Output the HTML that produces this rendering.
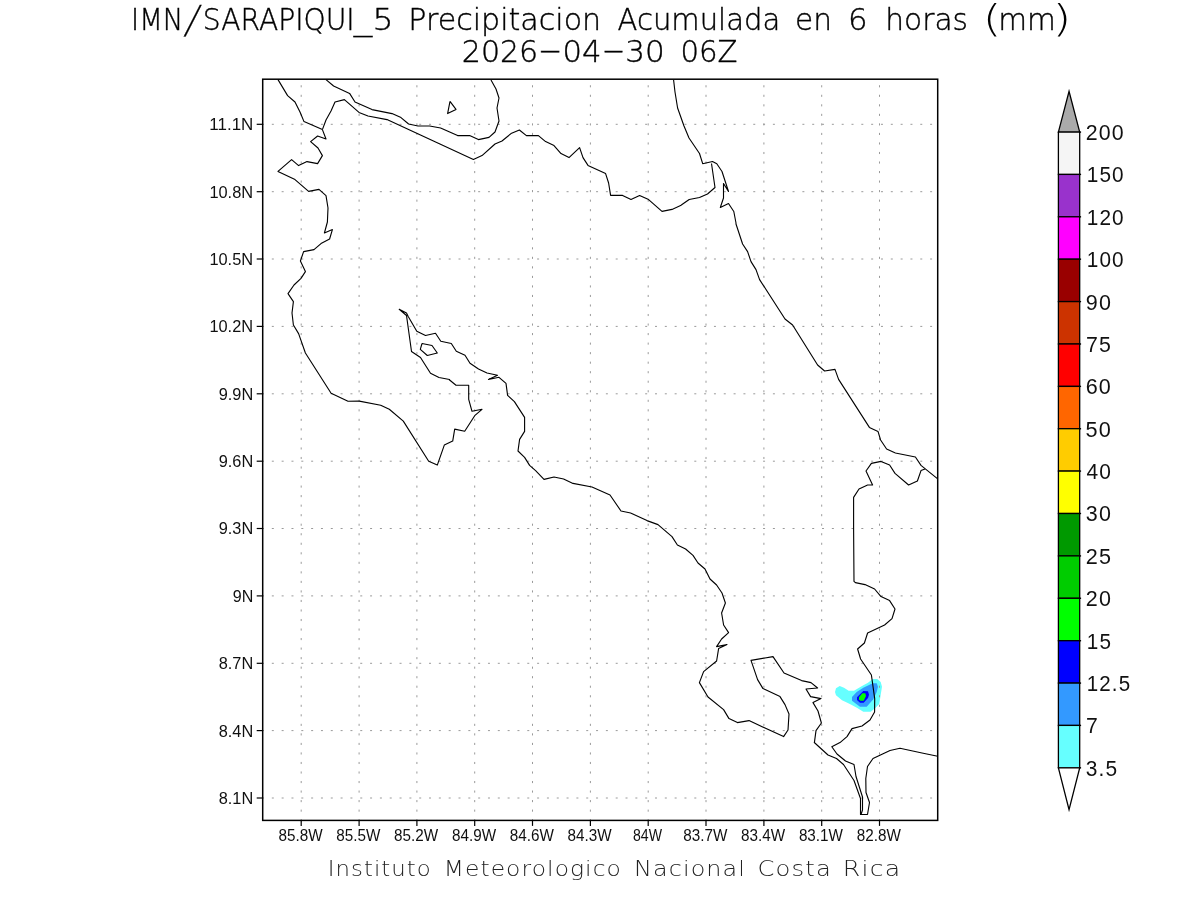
<!DOCTYPE html>
<html lang="es"><head><meta charset="utf-8"><title>IMN/SARAPIQUI_5 Precipitacion Acumulada en 6 horas (mm) 2026-04-30 06Z</title>
<style>
html,body{margin:0;padding:0;background:#fff;}
body{width:1200px;height:900px;overflow:hidden;}
svg{display:block;}
.thin{font-family:"DejaVu Sans Light","DejaVu Sans","Liberation Sans",sans-serif;font-weight:200;}
.ax{font-family:"Liberation Sans","DejaVu Sans",sans-serif;}
.cb{font-family:"Liberation Sans","DejaVu Sans",sans-serif;}
</style></head><body>
<svg width="1200" height="900" viewBox="0 0 1200 900">
<rect width="1200" height="900" fill="#fff"/>
<g stroke="none">
<polygon fill="#66ffff" points="835,692 836,688.3 839.7,686 844,687.7 848.7,690.7 854,690.7 862,686 868,682.7 872.7,679 877.3,679 880.7,682 882,686.7 880.7,694.7 879.3,704 875.3,708 870.7,711.7 863.3,711.7 857.3,708 851.3,704.7 847.3,702.7 842,700.3 836,695.3"/>
<polygon fill="#3399ff" points="852,697 856.7,692 863.3,687.7 872.7,683.3 876.7,683.3 878,686.7 876.7,692 873.3,699.3 866.7,706.7 860,706.7 852,700.7"/>
<polygon fill="#0000ff" points="857,697.3 863.3,691 868,691.3 869,694.7 868,698 863.7,702.7 860,702.7 857,700"/>
<polygon fill="#00ff00" points="859,697.3 862.3,693.3 865.3,693.3 866,696 863.7,700.7 860.3,700.7 859,699.3"/>
</g>
<g stroke="#9a9a9a" stroke-width="1" fill="none">
<line x1="262" y1="124.3" x2="934.7" y2="124.3" stroke-dasharray="2 7.825"/>
<line x1="262" y1="191.7" x2="934.7" y2="191.7" stroke-dasharray="2 7.825"/>
<line x1="262" y1="259.0" x2="934.7" y2="259.0" stroke-dasharray="2 7.825"/>
<line x1="262" y1="326.4" x2="934.7" y2="326.4" stroke-dasharray="2 7.825"/>
<line x1="262" y1="393.8" x2="934.7" y2="393.8" stroke-dasharray="2 7.825"/>
<line x1="262" y1="461.2" x2="934.7" y2="461.2" stroke-dasharray="2 7.825"/>
<line x1="262" y1="528.5" x2="934.7" y2="528.5" stroke-dasharray="2 7.825"/>
<line x1="262" y1="595.9" x2="934.7" y2="595.9" stroke-dasharray="2 7.825"/>
<line x1="262" y1="663.3" x2="934.7" y2="663.3" stroke-dasharray="2 7.825"/>
<line x1="262" y1="730.6" x2="934.7" y2="730.6" stroke-dasharray="2 7.825"/>
<line x1="262" y1="798.0" x2="934.7" y2="798.0" stroke-dasharray="2 7.825"/>
<line x1="301.2" y1="821.22" x2="301.2" y2="82.2" stroke-dasharray="2.1 7.431"/>
<line x1="359.1" y1="821.22" x2="359.1" y2="82.2" stroke-dasharray="2.1 7.431"/>
<line x1="416.9" y1="821.22" x2="416.9" y2="82.2" stroke-dasharray="2.1 7.431"/>
<line x1="474.7" y1="821.22" x2="474.7" y2="82.2" stroke-dasharray="2.1 7.431"/>
<line x1="532.5" y1="821.22" x2="532.5" y2="82.2" stroke-dasharray="2.1 7.431"/>
<line x1="590.4" y1="821.22" x2="590.4" y2="82.2" stroke-dasharray="2.1 7.431"/>
<line x1="648.2" y1="821.22" x2="648.2" y2="82.2" stroke-dasharray="2.1 7.431"/>
<line x1="706.0" y1="821.22" x2="706.0" y2="82.2" stroke-dasharray="2.1 7.431"/>
<line x1="763.9" y1="821.22" x2="763.9" y2="82.2" stroke-dasharray="2.1 7.431"/>
<line x1="821.7" y1="821.22" x2="821.7" y2="82.2" stroke-dasharray="2.1 7.431"/>
<line x1="879.5" y1="821.22" x2="879.5" y2="82.2" stroke-dasharray="2.1 7.431"/>
</g>
<g stroke="#000" stroke-width="1.12" fill="none" stroke-linejoin="round">
<polyline points="278,79.6 287.6,95.6 295,102 300,112 304,121.6 322.4,129.6"/>
<polyline points="322.4,129.6 326,139 317.6,136 310.6,141.6 318,148 322.4,155.6 317.6,163.6 307,161.6 298.6,165.6 291.6,159.6 278,171.4 295,179.6 308.6,191.4 319,189.4 326,195.6 328,208 327.4,222 324.4,233 332.4,229.6 329.6,239 321,243.6 314,249.6 303.6,251.6 300.4,261 305.4,271.6 301,278.4 294,285 288,293.6 293.4,301.6 292,313 293.4,325 298.6,333.6 305.4,353 331.1,393.3 348,401.3 359.3,401.1 380.7,405.3 389.3,409.3 403.3,421.1 428.7,461.3 437.3,465.1 444.3,445.1 452.7,441.1 454.7,429.1 464.7,431.3 474.7,415.7 482,409.3 472,411.3 468.7,399.3 468.7,385.3 456,385.3 449.3,379.7 449.5,379.5 439,377.5 430.5,373.3 420.5,357.5 411.5,351.5 406.5,315.5 399.2,309.3 399.2,309.3 406.5,313 408.2,316.5 416.8,331.3 425.5,335.5 435.5,333.3 440.8,341.3 451.3,343.5 456.3,351.3 465,355.3 470,363.3 478.5,369 487,373 497.5,375.3 488.5,379.5 499,377.3 506,383.4 507.6,395.4 514.4,401.6 524.6,417.4 524.6,431.4 519.6,439.4 518,451 524.6,457.4 529.6,465.4 535.6,470.6 544,479.4 554,477 563.6,479 573,483.4 592,487 610,495 621,511 630.6,513 647,520.6 658,524.6 672,536.6 677.4,545 685.6,549 693,555.4 698,563 705,569 710,579 716.6,585 722,593 725.4,603 721.6,613 723.6,625 728.6,632.6 721.6,639 716.6,646.6 727,644.6 718.6,648.6 716.6,661 703.6,671.6 699.4,682.6 708,697 723.6,709.6 729,718.6 737.4,722.6 749,720.6 783.6,736.6 788,730 789,714 785,704.6 780,696.6 763,688.6 757.6,679.6 751,660.4 773,656.6 784,673 801.6,680.6 811,682.6 817.6,688 806,689 810.6,696.6 821,698.6 813,702.6 818,711 821.4,723 816,730.6 814.4,742.6 814.3,742.5 828,755 836.5,758.5 843.5,764.5 854,780.5 860.5,798.5 860.5,814.5 867.5,814.5 869.5,802.5 866,792.5 865.8,778.5 867.5,766.5 873,758.5 890,750.5 900,748.3 922,753 937.7,756.2"/>
<polyline points="322.4,129.6 326,120 331,111 335,102 344.4,99.6 359,112.4 368,116 387,119.6 473.4,159.4 482,155.6 495,144 502,141 511,133.6 519.4,130 526.4,135.6 538.4,135.6 545.6,141.6 554,145.6 561,153.6 569,157.6 579.6,147.6 583,157.6 588,165.4 605.6,173.6 608.6,183 610.6,195.4 622.6,195.4 631,199.4 639.6,195.6 648.6,199.6 662,211.4 672,209.4 680.6,205.6 682,204.5 689.2,199.5 699.5,197.5 707.5,194 715,187.5 711.5,163.5"/>
<polyline points="326,79.6 333.6,86 349.6,93.4 355,102 372,109.6 392,113.6 401,117.6 408.6,124 418,126 429.6,126 440.6,128 457.6,135.6 469.6,135.6 478.4,139.6 489,137.4 495,132 499,121 497,108 499,98 496,89 491,80"/>
<polyline points="450,101.4 456,109.4 447.6,113.6 450,101.4"/>
<polyline points="422,343.5 432,345.5 437.3,353 427.3,355.5 420.3,349.3 422,343.5"/>
<polyline points="673.6,80 675,92 677.6,108 684,126 689,138 699.5,153.5 702.7,163.7 712.5,161.5 716.8,163.8 722,171.5 728.5,191.5 723.5,183.5 723.5,198 720.3,207.5 728.5,203.5 733.8,211.5 736,223 736,224 742.6,244 747.6,251.6 751,261.6 756,269.6 759.6,279.6 785,319 792.6,325 817.6,365 824.6,371 835,369.4 838.6,379.4 869.4,427.4 878,431.4 880.6,440 886.6,449 895.4,453 915.4,457 921,465.4 925,468.6 937.4,478.6"/>
<polyline points="925,469 921,470.6 917.4,481 908.6,485 895,473.4 889.6,465 881,461.4 871.4,463.4 866,471 872.6,485 867.6,485 859,489 853.6,497.4 853.6,528 854,581.4 855.4,582.6 865,584.6 874.6,589 881,596.6 889.6,600.6 895,609 892,618.6 884.6,625 867.6,633 864.4,643 857.6,649 860.6,659 871.4,675 874.7,698.7 874.6,712 870,720 862,726 852,728.6 847,736.6 840,742.6 831.8,746.7 837,754 845.5,761 854,764.5 856,776.5 862.5,797 862.5,810 861,814.5"/>
</g>
<rect x="262.7" y="79.2" width="675" height="741.2" fill="none" stroke="#000" stroke-width="1.5"/>
<g stroke="#000" stroke-width="1.2">
<line x1="256.7" y1="124.3" x2="262.7" y2="124.3"/>
<line x1="256.7" y1="191.7" x2="262.7" y2="191.7"/>
<line x1="256.7" y1="259.0" x2="262.7" y2="259.0"/>
<line x1="256.7" y1="326.4" x2="262.7" y2="326.4"/>
<line x1="256.7" y1="393.8" x2="262.7" y2="393.8"/>
<line x1="256.7" y1="461.2" x2="262.7" y2="461.2"/>
<line x1="256.7" y1="528.5" x2="262.7" y2="528.5"/>
<line x1="256.7" y1="595.9" x2="262.7" y2="595.9"/>
<line x1="256.7" y1="663.3" x2="262.7" y2="663.3"/>
<line x1="256.7" y1="730.6" x2="262.7" y2="730.6"/>
<line x1="256.7" y1="798.0" x2="262.7" y2="798.0"/>
<line x1="301.2" y1="820.4" x2="301.2" y2="825.9"/>
<line x1="359.1" y1="820.4" x2="359.1" y2="825.9"/>
<line x1="416.9" y1="820.4" x2="416.9" y2="825.9"/>
<line x1="474.7" y1="820.4" x2="474.7" y2="825.9"/>
<line x1="532.5" y1="820.4" x2="532.5" y2="825.9"/>
<line x1="590.4" y1="820.4" x2="590.4" y2="825.9"/>
<line x1="648.2" y1="820.4" x2="648.2" y2="825.9"/>
<line x1="706.0" y1="820.4" x2="706.0" y2="825.9"/>
<line x1="763.9" y1="820.4" x2="763.9" y2="825.9"/>
<line x1="821.7" y1="820.4" x2="821.7" y2="825.9"/>
<line x1="879.5" y1="820.4" x2="879.5" y2="825.9"/>
</g>
<g stroke="#000" stroke-width="1.3" stroke-linejoin="miter" stroke-miterlimit="10">
<polygon fill="#aaaaaa" points="1058.4,132.05 1069.05,91.3 1079.7,132.05"/>
<rect x="1058.4" y="132.1" width="21.3" height="42.385" fill="#f5f5f5"/>
<rect x="1058.4" y="174.4" width="21.3" height="42.385" fill="#9932cc"/>
<rect x="1058.4" y="216.8" width="21.3" height="42.385" fill="#ff00ff"/>
<rect x="1058.4" y="259.2" width="21.3" height="42.385" fill="#990000"/>
<rect x="1058.4" y="301.6" width="21.3" height="42.385" fill="#cc3300"/>
<rect x="1058.4" y="344.0" width="21.3" height="42.385" fill="#ff0000"/>
<rect x="1058.4" y="386.4" width="21.3" height="42.385" fill="#ff6600"/>
<rect x="1058.4" y="428.7" width="21.3" height="42.385" fill="#ffcc00"/>
<rect x="1058.4" y="471.1" width="21.3" height="42.385" fill="#ffff00"/>
<rect x="1058.4" y="513.5" width="21.3" height="42.385" fill="#009900"/>
<rect x="1058.4" y="555.9" width="21.3" height="42.385" fill="#00cc00"/>
<rect x="1058.4" y="598.3" width="21.3" height="42.385" fill="#00ff00"/>
<rect x="1058.4" y="640.7" width="21.3" height="42.385" fill="#0000ff"/>
<rect x="1058.4" y="683.1" width="21.3" height="42.385" fill="#3399ff"/>
<rect x="1058.4" y="725.4" width="21.3" height="42.385" fill="#66ffff"/>
<polygon fill="#ffffff" points="1058.4,767.8 1069.05,809.6 1079.7,767.8"/>
<line x1="1079.7" y1="132.1" x2="1081.1000000000001" y2="132.1"/>
<line x1="1079.7" y1="174.4" x2="1081.1000000000001" y2="174.4"/>
<line x1="1079.7" y1="216.8" x2="1081.1000000000001" y2="216.8"/>
<line x1="1079.7" y1="259.2" x2="1081.1000000000001" y2="259.2"/>
<line x1="1079.7" y1="301.6" x2="1081.1000000000001" y2="301.6"/>
<line x1="1079.7" y1="344.0" x2="1081.1000000000001" y2="344.0"/>
<line x1="1079.7" y1="386.4" x2="1081.1000000000001" y2="386.4"/>
<line x1="1079.7" y1="428.7" x2="1081.1000000000001" y2="428.7"/>
<line x1="1079.7" y1="471.1" x2="1081.1000000000001" y2="471.1"/>
<line x1="1079.7" y1="513.5" x2="1081.1000000000001" y2="513.5"/>
<line x1="1079.7" y1="555.9" x2="1081.1000000000001" y2="555.9"/>
<line x1="1079.7" y1="598.3" x2="1081.1000000000001" y2="598.3"/>
<line x1="1079.7" y1="640.7" x2="1081.1000000000001" y2="640.7"/>
<line x1="1079.7" y1="683.1" x2="1081.1000000000001" y2="683.1"/>
<line x1="1079.7" y1="725.4" x2="1081.1000000000001" y2="725.4"/>
<line x1="1079.7" y1="767.8" x2="1081.1000000000001" y2="767.8"/>
</g>
<g style="will-change:transform">
<text class="thin" font-size="30.6" fill="#000" stroke="#000" stroke-width="0.4" y="30.0"><tspan x="131.08" textLength="52.08" lengthAdjust="spacingAndGlyphs">IMN</tspan><tspan x="183.88" dy="3.4" font-size="38.5" font-style="italic" stroke-width="0.25" textLength="11.82" lengthAdjust="spacingAndGlyphs">/</tspan><tspan x="202.75" dy="-3.4" textLength="151.93" lengthAdjust="spacingAndGlyphs">SARAPIQUI</tspan><tspan x="353.85" textLength="18.46" lengthAdjust="spacingAndGlyphs">_</tspan><tspan x="372.57" textLength="20.96" lengthAdjust="spacingAndGlyphs">5</tspan></text>
<text class="thin" font-size="30.6" fill="#000" stroke="#000" stroke-width="0.4" x="408.33" y="30.0" textLength="192.86" lengthAdjust="spacingAndGlyphs">Precipitacion</text>
<text class="thin" font-size="30.6" fill="#000" stroke="#000" stroke-width="0.4" x="617.60" y="30.0" textLength="162.64" lengthAdjust="spacingAndGlyphs">Acumulada</text>
<text class="thin" font-size="30.6" fill="#000" stroke="#000" stroke-width="0.4" x="795.11" y="30.0" textLength="36.92" lengthAdjust="spacingAndGlyphs">en</text>
<text class="thin" font-size="30.6" fill="#000" stroke="#000" stroke-width="0.4" x="848.11" y="30.0" textLength="19.57" lengthAdjust="spacingAndGlyphs">6</text>
<text class="thin" font-size="30.6" fill="#000" stroke="#000" stroke-width="0.4" x="885.37" y="30.0" textLength="82.61" lengthAdjust="spacingAndGlyphs">horas</text>
<text class="thin" font-size="30.6" fill="#000" stroke="#000" stroke-width="0.4" y="30.0"><tspan x="982.47" dy="2.4" font-size="37.4" stroke="none" textLength="19.15" lengthAdjust="spacingAndGlyphs">(</tspan><tspan x="998.22" dy="-2.4" textLength="57.59" lengthAdjust="spacingAndGlyphs">mm</tspan><tspan x="1052.18" dy="2.4" font-size="37.4" stroke="none" textLength="19.25" lengthAdjust="spacingAndGlyphs">)</tspan></text>
<text class="thin" font-size="30.8" fill="#000" stroke="#000" stroke-width="0.4" y="61.9"><tspan x="461.84" textLength="76.39" lengthAdjust="spacingAndGlyphs">2026</tspan><tspan x="537.91" dy="-1.5" font-size="30.8"  textLength="24.27" lengthAdjust="spacingAndGlyphs">-</tspan><tspan x="562.50" dy="1.5" textLength="39.00" lengthAdjust="spacingAndGlyphs">04</tspan><tspan x="601.76" dy="-1.5" font-size="30.8"  textLength="23.58" lengthAdjust="spacingAndGlyphs">-</tspan><tspan x="625.32" dy="1.5" textLength="39.48" lengthAdjust="spacingAndGlyphs">30</tspan></text>
<text class="thin" font-size="30.8" fill="#000" stroke="#000" stroke-width="0.4" x="680.48" y="61.9" textLength="57.08" lengthAdjust="spacingAndGlyphs">06Z</text>
<text class="ax" font-size="16.7" fill="#101010" x="209.35" y="130.2" textLength="43.98" lengthAdjust="spacingAndGlyphs">11.1N</text>
<text class="ax" font-size="16.7" fill="#101010" x="209.40" y="197.6" textLength="43.69" lengthAdjust="spacingAndGlyphs">10.8N</text>
<text class="ax" font-size="16.7" fill="#101010" x="209.40" y="264.9" textLength="43.69" lengthAdjust="spacingAndGlyphs">10.5N</text>
<text class="ax" font-size="16.7" fill="#101010" x="209.40" y="332.3" textLength="43.69" lengthAdjust="spacingAndGlyphs">10.2N</text>
<text class="ax" font-size="16.7" fill="#101010" x="218.75" y="399.7" textLength="34.49" lengthAdjust="spacingAndGlyphs">9.9N</text>
<text class="ax" font-size="16.7" fill="#101010" x="218.75" y="467.1" textLength="34.49" lengthAdjust="spacingAndGlyphs">9.6N</text>
<text class="ax" font-size="16.7" fill="#101010" x="218.75" y="534.4" textLength="34.49" lengthAdjust="spacingAndGlyphs">9.3N</text>
<text class="ax" font-size="16.7" fill="#101010" x="232.76" y="601.8" textLength="20.54" lengthAdjust="spacingAndGlyphs">9N</text>
<text class="ax" font-size="16.7" fill="#101010" x="218.77" y="669.2" textLength="34.46" lengthAdjust="spacingAndGlyphs">8.7N</text>
<text class="ax" font-size="16.7" fill="#101010" x="218.77" y="736.5" textLength="34.46" lengthAdjust="spacingAndGlyphs">8.4N</text>
<text class="ax" font-size="16.7" fill="#101010" x="218.77" y="803.9" textLength="34.46" lengthAdjust="spacingAndGlyphs">8.1N</text>
<text class="ax" font-size="16.7" fill="#101010" x="278.47" y="840.7" textLength="44.11" lengthAdjust="spacingAndGlyphs">85.8W</text>
<text class="ax" font-size="16.7" fill="#101010" x="336.29" y="840.7" textLength="44.11" lengthAdjust="spacingAndGlyphs">85.5W</text>
<text class="ax" font-size="16.7" fill="#101010" x="394.12" y="840.7" textLength="44.11" lengthAdjust="spacingAndGlyphs">85.2W</text>
<text class="ax" font-size="16.7" fill="#101010" x="451.94" y="840.7" textLength="44.11" lengthAdjust="spacingAndGlyphs">84.9W</text>
<text class="ax" font-size="16.7" fill="#101010" x="509.77" y="840.7" textLength="44.11" lengthAdjust="spacingAndGlyphs">84.6W</text>
<text class="ax" font-size="16.7" fill="#101010" x="567.59" y="840.7" textLength="44.11" lengthAdjust="spacingAndGlyphs">84.3W</text>
<text class="ax" font-size="16.7" fill="#101010" x="633.02" y="840.7" textLength="29.02" lengthAdjust="spacingAndGlyphs">84W</text>
<text class="ax" font-size="16.7" fill="#101010" x="683.24" y="840.7" textLength="44.11" lengthAdjust="spacingAndGlyphs">83.7W</text>
<text class="ax" font-size="16.7" fill="#101010" x="741.07" y="840.7" textLength="44.11" lengthAdjust="spacingAndGlyphs">83.4W</text>
<text class="ax" font-size="16.7" fill="#101010" x="798.89" y="840.7" textLength="44.11" lengthAdjust="spacingAndGlyphs">83.1W</text>
<text class="ax" font-size="16.7" fill="#101010" x="856.72" y="840.7" textLength="44.11" lengthAdjust="spacingAndGlyphs">82.8W</text>
<text class="cb" font-size="21.8" fill="#111" letter-spacing="1.2" x="1085.73" y="140.0" textLength="39.14" lengthAdjust="spacingAndGlyphs">200</text>
<text class="cb" font-size="21.8" fill="#111" letter-spacing="1.2" x="1086.71" y="182.3" textLength="38.11" lengthAdjust="spacingAndGlyphs">150</text>
<text class="cb" font-size="21.8" fill="#111" letter-spacing="1.2" x="1086.71" y="224.7" textLength="38.11" lengthAdjust="spacingAndGlyphs">120</text>
<text class="cb" font-size="21.8" fill="#111" letter-spacing="1.2" x="1086.71" y="267.1" textLength="38.11" lengthAdjust="spacingAndGlyphs">100</text>
<text class="cb" font-size="21.8" fill="#111" letter-spacing="1.2" x="1085.76" y="309.5" textLength="26.29" lengthAdjust="spacingAndGlyphs">90</text>
<text class="cb" font-size="21.8" fill="#111" letter-spacing="1.2" x="1086.01" y="351.9" textLength="26.10" lengthAdjust="spacingAndGlyphs">75</text>
<text class="cb" font-size="21.8" fill="#111" letter-spacing="1.2" x="1085.69" y="394.3" textLength="26.36" lengthAdjust="spacingAndGlyphs">60</text>
<text class="cb" font-size="21.8" fill="#111" letter-spacing="1.2" x="1085.56" y="436.6" textLength="26.50" lengthAdjust="spacingAndGlyphs">50</text>
<text class="cb" font-size="21.8" fill="#111" letter-spacing="1.2" x="1086.39" y="479.0" textLength="25.60" lengthAdjust="spacingAndGlyphs">40</text>
<text class="cb" font-size="21.8" fill="#111" letter-spacing="1.2" x="1085.80" y="521.4" textLength="26.24" lengthAdjust="spacingAndGlyphs">30</text>
<text class="cb" font-size="21.8" fill="#111" letter-spacing="1.2" x="1085.72" y="563.8" textLength="26.42" lengthAdjust="spacingAndGlyphs">25</text>
<text class="cb" font-size="21.8" fill="#111" letter-spacing="1.2" x="1085.72" y="606.2" textLength="26.33" lengthAdjust="spacingAndGlyphs">20</text>
<text class="cb" font-size="21.8" fill="#111" letter-spacing="1.2" x="1086.72" y="648.6" textLength="25.33" lengthAdjust="spacingAndGlyphs">15</text>
<text class="cb" font-size="21.8" fill="#111" letter-spacing="1.2" x="1086.73" y="691.0" textLength="44.49" lengthAdjust="spacingAndGlyphs">12.5</text>
<text class="cb" font-size="21.8" fill="#111" letter-spacing="1.2" x="1086.01" y="733.3" textLength="12.97" lengthAdjust="spacingAndGlyphs">7</text>
<text class="cb" font-size="21.8" fill="#111" letter-spacing="1.2" x="1085.83" y="775.7" textLength="32.56" lengthAdjust="spacingAndGlyphs">3.5</text>
<text class="thin" font-size="21.6" fill="#222" letter-spacing="1" x="327.72" y="876.3" textLength="104.07" lengthAdjust="spacingAndGlyphs">Instituto</text>
<text class="thin" font-size="21.6" fill="#222" letter-spacing="1" x="443.71" y="876.3" textLength="178.30" lengthAdjust="spacingAndGlyphs">Meteorologico</text>
<text class="thin" font-size="21.6" fill="#222" letter-spacing="1" x="634.09" y="876.3" textLength="111.96" lengthAdjust="spacingAndGlyphs">Nacional</text>
<text class="thin" font-size="21.6" fill="#222" letter-spacing="1" x="757.49" y="876.3" textLength="74.41" lengthAdjust="spacingAndGlyphs">Costa</text>
<text class="thin" font-size="21.6" fill="#222" letter-spacing="1" x="842.89" y="876.3" textLength="58.49" lengthAdjust="spacingAndGlyphs">Rica</text>
</g>
</svg></body></html>
